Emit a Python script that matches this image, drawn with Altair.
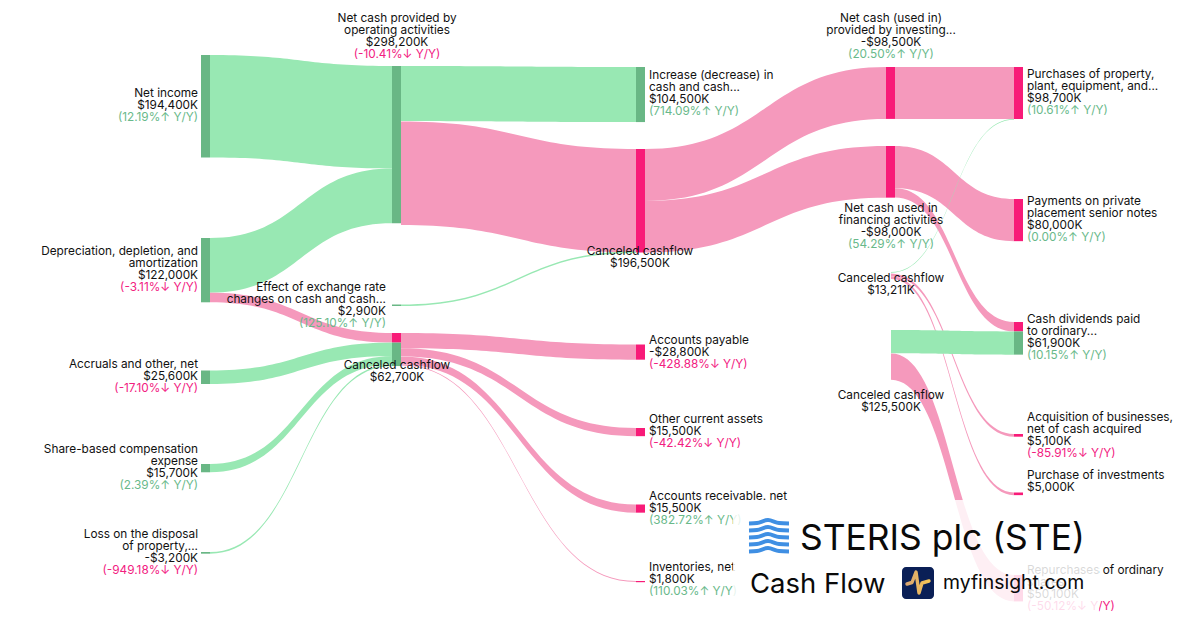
import altair as alt
import pandas as pd

FONT = "Inter"
K = 0.000527  # pixels per $K on the value scale

# ---- label content -------------------------------------------------------
names = {
    "ni": ["Net income"],
    "dep": ["Depreciation, depletion, and", "amortization"],
    "acc": ["Accruals and other, net"],
    "sbc": ["Share-based compensation", "expense"],
    "loss": ["Loss on the disposal", "of property,..."],
    "fx": ["Effect of exchange rate", "changes on cash and cash..."],
    "c62": ["Canceled cashflow"],
    "op": ["Net cash provided by", "operating activities"],
    "inc": ["Increase (decrease) in", "cash and cash..."],
    "c196": ["Canceled cashflow"],
    "ap": ["Accounts payable"],
    "oca": ["Other current assets"],
    "ar": ["Accounts receivable. net"],
    "inv": ["Inventories, net"],
    "ci": ["Net cash (used in)", "provided by investing..."],
    "cf": ["Net cash used in", "financing activities"],
    "c13": ["Canceled cashflow"],
    "c125": ["Canceled cashflow"],
    "ppe": ["Purchases of property,", "plant, equipment, and..."],
    "notes": ["Payments on private", "placement senior notes"],
    "div": ["Cash dividends paid", "to ordinary..."],
    "acq": ["Acquisition of businesses,", "net of cash acquired"],
    "pinv": ["Purchase of investments"],
    "rep": ["Repurchases of ordinary", "shares"],
}
amounts = {
    "ni": "$194,400K", "dep": "$122,000K", "acc": "$25,600K", "sbc": "$15,700K",
    "loss": "-$3,200K", "fx": "$2,900K", "c62": "$62,700K", "op": "$298,200K",
    "inc": "$104,500K", "c196": "$196,500K", "ap": "-$28,800K", "oca": "$15,500K",
    "ar": "$15,500K", "inv": "$1,800K", "ci": "-$98,500K", "cf": "-$98,000K",
    "c13": "$13,211K", "c125": "$125,500K", "ppe": "$98,700K", "notes": "$80,000K",
    "div": "$61,900K", "acq": "$5,100K", "pinv": "$5,000K", "rep": "$50,100K",
}
growth = {
    "ni": "12.19", "dep": "-3.11", "acc": "-17.10", "sbc": "2.39", "loss": "-949.18",
    "fx": "125.10", "op": "-10.41", "inc": "714.09", "ap": "-428.88", "oca": "-42.42",
    "ar": "382.72", "inv": "110.03", "ci": "20.50", "cf": "54.29", "ppe": "10.61",
    "notes": "0.00", "div": "10.15", "acq": "-85.91", "rep": "-50.12",
}

# ---- sankey layout: (label key, alignment, x, y of first line) -----------
label_layout = [
    ("ni", "right", 198, 93), ("dep", "right", 198, 251), ("acc", "right", 198, 364),
    ("sbc", "right", 198, 449), ("loss", "right", 198, 534), ("fx", "right", 386, 287),
    ("c62", "center", 397, 365), ("op", "center", 397, 18), ("inc", "left", 649, 75),
    ("c196", "center", 640, 251), ("ap", "left", 649, 340), ("oca", "left", 649, 419),
    ("ar", "left", 649, 496), ("inv", "left", 649, 567), ("ci", "center", 891, 18),
    ("cf", "center", 891, 208), ("c13", "center", 891, 278), ("c125", "center", 891, 395),
    ("ppe", "left", 1027, 74), ("notes", "left", 1027, 201), ("div", "left", 1027, 319),
    ("acq", "left", 1027, 417), ("pinv", "left", 1027, 475), ("rep", "left", 1027, 570),
]
COL_L = [201, 392, 636, 886, 1014]
COL_R = [210, 401, 645, 895, 1023]
HIDDEN_X = 891

# node segments: column, top, value, tone
node_rows = [
    (0, 55, 194400, "g"), (0, 238, 122000, "g"), (0, 370.5, 25600, "g"),
    (0, 464, 15700, "g"), (0, 552, 3200, "g"),
    (1, 66, 298200, "g"), (1, 304.5, 2900, "g"), (1, 333, 18200, "p"), (1, 342.6, 44500, "g"),
    (2, 67, 104500, "g"), (2, 149, 196500, "p"), (2, 344.5, 28800, "p"),
    (2, 428, 15500, "p"), (2, 504.5, 15500, "p"), (2, 581, 1800, "p"),
    (3, 67, 98500, "p"), (3, 146, 98000, "p"),
    (4, 67, 98700, "p"), (4, 199, 80000, "p"), (4, 322, 17800, "p"), (4, 331.4, 44100, "g"),
    (4, 434, 5100, "p"), (4, 492.5, 5000, "p"), (4, 575, 50100, "p"),
]

# links: source x, target column, value, source top, target top, tone
link_rows = [
    (COL_R[0], 1, 194400, 55, 66, "g"),
    (COL_R[0], 1, 103800, 238, 168.5, "g"),
    (COL_R[0], 1, 18200, 292.7, 333, "p"),
    (COL_R[0], 1, 25600, 370.5, 342.6, "g"),
    (COL_R[0], 1, 15700, 464, 356.1, "g"),
    (COL_R[0], 1, 3200, 552, 364.4, "g"),
    (COL_R[1], 2, 104500, 66, 67, "g"),
    (COL_R[1], 2, 196500, 121.5, 149, "p"),
    (COL_R[1], 2, 2900, 304.5, 251.5, "g"),
    (COL_R[1], 2, 28800, 333, 344.5, "p"),
    (COL_R[1], 2, 15500, 348.2, 428, "p"),
    (COL_R[1], 2, 15500, 356.4, 504.5, "p"),
    (COL_R[1], 2, 1800, 364.6, 581, "p"),
    (COL_R[2], 3, 98500, 149, 67, "p"),
    (COL_R[2], 3, 98000, 200.9, 146, "p"),
    (COL_R[3], 4, 98500, 67, 67, "p"),
    (COL_R[3], 4, 80000, 146, 199, "p"),
    (COL_R[3], 4, 17800, 188.2, 322, "p"),
    (HIDDEN_X, 4, 1300, 272, 119, "g"),
    (HIDDEN_X, 4, 5100, 273.6, 434, "p"),
    (HIDDEN_X, 4, 5000, 276.3, 492.5, "p"),
    (HIDDEN_X, 4, 44100, 330, 331.4, "g"),
    (HIDDEN_X, 4, 50100, 353.4, 575, "p"),
]

# ---- logo ----------------------------------------------------------------
wave_x = [749, 757, 768, 779, 789]
wave_dy = [3.5, 3.0, 0, 3.0, 3.5]
wave_rows = [520, 527, 534, 541, 548]
pulse_x = [907, 912, 916, 919, 922, 929]
pulse_y = [584, 582.5, 572, 593, 583, 581]

# ---- build tables --------------------------------------------------------
STEPS = 40
link_pts = []
for i, (sx, col, val, y0, y1, tone) in enumerate(link_rows):
    tx = COL_L[col]
    th = val * K
    for s in range(STEPS + 1):
        t = s / STEPS
        a, b, c, d = (1 - t) ** 3, 3 * t * (1 - t) ** 2, 3 * t * t * (1 - t), t ** 3
        mx = (sx + tx) / 2
        x = a * sx + b * mx + c * mx + d * tx
        y = (a + b) * y0 + (c + d) * y1
        link_pts.append({"link": i, "tone": tone, "x": x, "top": y, "bottom": y + th})
links_df = pd.DataFrame(link_pts)

nodes_df = pd.DataFrame([
    {"x": COL_L[c], "x2": COL_R[c], "y": top, "y2": top + max(v * K, 1.2), "tone": tone}
    for c, top, v, tone in node_rows
])

labels = []
for key, align, x, y in label_layout:
    lines = [(t, "k") for t in names[key]] + [(amounts[key], "k")]
    if key in growth:
        g = growth[key]
        arrow, tone = ("↓", "p") if g.startswith("-") else ("↑", "g")
        lines.append((f"({g}%{arrow} Y/Y)", tone))
    for j, (text, tone) in enumerate(lines):
        labels.append({"key": key, "align": align, "x": x, "y": y + 12 * j, "text": text, "tone": tone})
labels_df = pd.DataFrame(labels)

# ---- scales --------------------------------------------------------------
X_SCALE = alt.Scale(domain=[8, 1192], nice=False, zero=False)
Y_SCALE = alt.Scale(domain=[620, 8], nice=False, zero=False)
xq = alt.X("x:Q", scale=X_SCALE, axis=None)
yq = alt.Y("y:Q", scale=Y_SCALE, axis=None)
link_color = alt.Color("tone:N", legend=None,
                       scale=alt.Scale(domain=["g", "p"], range=["#98E8B3", "#F599BC"]))
node_color = alt.Color("tone:N", legend=None,
                       scale=alt.Scale(domain=["g", "p"], range=["#69B785", "#F81B78"]))

link_layer = alt.Chart(links_df).mark_area(interpolate="linear", opacity=1).encode(
    x=xq, y=alt.Y("top:Q", scale=Y_SCALE, axis=None), y2="bottom:Q",
    color=link_color, detail="link:N")

node_layer = alt.Chart(nodes_df).mark_rect().encode(
    x=xq, x2="x2:Q", y=yq, y2="y2:Q", color=node_color)


def text_layer(align):
    return alt.Chart(labels_df[labels_df["align"] == align]).mark_text(
        align=align, baseline="middle", font=FONT, fontSize=11.8).encode(
        x=xq, y=yq, text="text:N",
        color=alt.Color("tone:N", legend=None,
                        scale=alt.Scale(domain=["k", "g", "p"],
                                        range=["#111111", "#69B98A", "#F2207F"])))


overlay = alt.Chart(pd.DataFrame([{"x": 733, "x2": 1099, "y": 500, "y2": 616}])).mark_rect(
    color="#FFFFFF", opacity=0.84).encode(x=xq, x2="x2:Q", y=yq, y2="y2:Q")

wave_df = pd.DataFrame([
    {"row": r, "x": x, "y": base + dy}
    for r, base in enumerate(wave_rows) for x, dy in zip(wave_x, wave_dy)
])
wave = alt.Chart(wave_df).mark_line(
    color="#3F8FE3", strokeWidth=4, interpolate="monotone").encode(x=xq, y=yq, detail="row:N")


def logo_text(text, x, y, size):
    return alt.Chart(pd.DataFrame([{"x": x, "y": y, "t": text}])).mark_text(
        align="left", baseline="alphabetic", font=FONT, fontSize=size, color="#0A0A0A").encode(
        x=xq, y=yq, text="t:N")


badge = alt.Chart(pd.DataFrame([{"x": 902, "x2": 934, "y": 567, "y2": 599}])).mark_rect(
    color="#0A1F56", cornerRadius=4).encode(x=xq, x2="x2:Q", y=yq, y2="y2:Q")
pulse = alt.Chart(pd.DataFrame({"x": pulse_x, "y": pulse_y})).mark_line(
    strokeWidth=3.4, strokeCap="round", strokeJoin="round",
    color=alt.Gradient(gradient="linear", x1=0, x2=1, y1=0, y2=0,
                       stops=[alt.GradientStop(color="#D8A672", offset=0),
                              alt.GradientStop(color="#F6C454", offset=1)])
).encode(x=xq, y=yq)

chart = alt.layer(
    link_layer, node_layer,
    text_layer("left"), text_layer("center"), text_layer("right"),
    overlay, wave,
    logo_text("STERIS plc (STE)", 800, 550, 35.4),
    logo_text("Cash Flow", 750, 593, 27.5),
    badge, pulse,
    logo_text("myfinsight.com", 943, 589, 19.4),
).resolve_scale(color="independent").properties(
    width=1184, height=612, padding=0,
    autosize=alt.AutoSizeParams(type="none"),
    background="#FFFFFF",
).configure_view(stroke=None)

chart.save("out.html", embed_options={"renderer": "svg", "actions": False})
